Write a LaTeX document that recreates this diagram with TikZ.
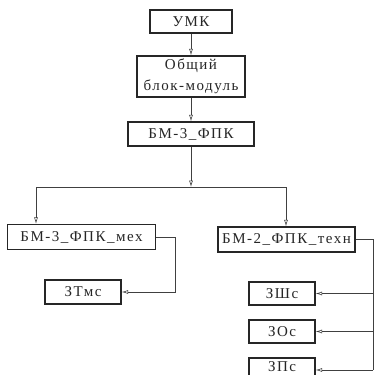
\documentclass[tikz,border=0pt]{standalone}
\usepackage{fontspec}
\setmainfont[LetterSpace=10]{Liberation Serif}
\usetikzlibrary{arrows.meta}
\begin{document}
\begin{tikzpicture}[x=1pt,y=-1pt,
  box/.style={draw=black!85,line width=1.4pt,inner sep=0pt,align=center,font=\fontsize{15}{21}\selectfont,text=black!85},
  conn/.style={draw=black!75,line width=0.6pt},
  tip/.style={conn,-{Latex[open,length=6.5pt,width=4pt]}}
]
\useasboundingbox[fill=white] (0,0) rectangle (375,375);
\node[box,minimum width=82pt,minimum height=23pt] (umk) at (191,21.5) {УМК};
\node[box,minimum width=108pt,minimum height=41pt] (obsh) at (191,76.5) {Общий\\блок-модуль};
\node[box,minimum width=126pt,minimum height=24pt] (bm3) at (191,134) {БМ-3\_ФПК};
\node[box,minimum width=148pt,minimum height=25pt] (mex) at (81.5,237) {БМ-3\_ФПК\_мех};
\node[box,minimum width=137pt,minimum height=25pt] (tekh) at (286.5,239.5) {БМ-2\_ФПК\_техн};
\node[box,minimum width=76pt,minimum height=24pt] (ztmc) at (83,292) {ЗТмс};
\node[box,minimum width=66pt,minimum height=23pt] (zsh) at (282,293.5) {ЗШс};
\node[box,minimum width=66pt,minimum height=23pt] (zo) at (282,331.5) {ЗОс};
\node[box,minimum width=66pt,minimum height=24pt] (zp) at (282,370) {};
\node[font=\fontsize{15}{18}\selectfont,text=black!85,inner sep=0pt,text depth=0pt,anchor=base] (zpt) at (282,371) {ЗПс};

\coordinate (busc) at (191,187);
\coordinate (busl) at (36,187);
\coordinate (busr) at (286,187);
\coordinate (rm) at (175,237);
\coordinate (rt) at (373,239.5);
\coordinate (r1) at (373,293.5);
\coordinate (r2) at (373,331.5);
\coordinate (r3) at (373,370);

\draw[tip] (umk) -- (obsh);
\draw[tip] (obsh) -- (bm3);
\draw[tip] (bm3) -- (busc);
\draw[conn] (busl) -- (busr);
\draw[tip] (busl) -- (busl |- mex.north);
\draw[tip] (busr) -- (busr |- tekh.north);
\draw[conn] (mex.east) -- (rm);
\draw[tip] (rm) |- (ztmc.east);
\draw[conn] (tekh.east) -- (rt) -- (r3);
\draw[tip] (r1) -- (zsh.east);
\draw[tip] (r2) -- (zo.east);
\draw[tip] (r3) -- (zp.east);
\end{tikzpicture}
\end{document}
